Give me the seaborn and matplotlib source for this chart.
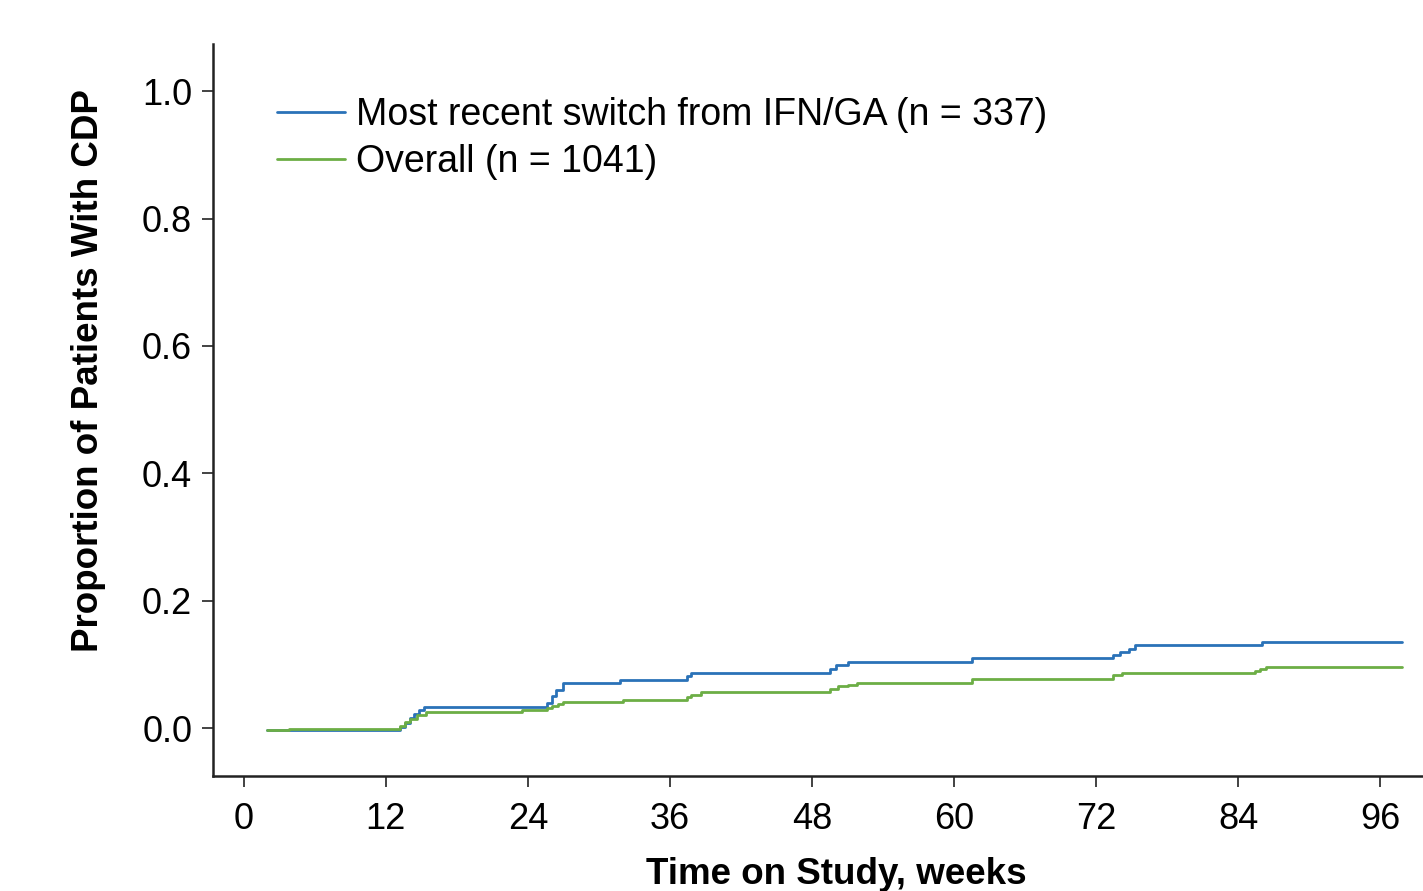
import matplotlib
matplotlib.use("Agg")
import matplotlib.pyplot as plt
import seaborn as sns
import pandas as pd
import numpy as np

# Kaplan-Meier style cumulative CDP proportions
switch_weeks = [2.0, 13.2, 13.6, 14.0, 14.4, 14.8, 15.2, 25.6, 26.0, 26.4, 27.0, 31.8, 37.4, 37.8, 49.5, 50.0, 51.0, 61.5, 73.4, 74.0, 74.8, 75.3, 86.0, 97.8]
switch_vals = [-0.003, 0.002, 0.008, 0.016, 0.022, 0.029, 0.033, 0.040, 0.050, 0.060, 0.071, 0.075, 0.082, 0.086, 0.093, 0.100, 0.104, 0.110, 0.115, 0.120, 0.125, 0.130, 0.135, 0.135]

overall_weeks = [2.0, 3.8, 13.2, 13.6, 14.0, 14.6, 15.4, 23.5, 25.6, 26.0, 26.5, 27.0, 32.0, 37.4, 37.8, 38.6, 49.5, 50.2, 51.0, 51.8, 61.5, 73.4, 74.2, 85.4, 85.8, 86.3, 97.8]
overall_vals = [-0.003, -0.001, 0.004, 0.009, 0.015, 0.020, 0.025, 0.028, 0.031, 0.035, 0.038, 0.041, 0.044, 0.049, 0.052, 0.057, 0.061, 0.066, 0.068, 0.071, 0.078, 0.083, 0.086, 0.090, 0.093, 0.096, 0.096]

series_names = ["Most recent switch from IFN/GA (n = 337)", "Overall (n = 1041)"]
series_colors = ["#2a72b8", "#6cae45"]

x_ticks = [0, 12, 24, 36, 48, 60, 72, 84, 96]
y_ticks = [0.0, 0.2, 0.4, 0.6, 0.8, 1.0]

sns.set_theme(style="ticks")
plt.rcParams["font.family"] = ["Liberation Sans", "DejaVu Sans"]
plt.rcParams["text.color"] = "black"
plt.rcParams["axes.labelcolor"] = "black"
plt.rcParams["xtick.color"] = "black"
plt.rcParams["ytick.color"] = "black"

df = pd.concat([
    pd.DataFrame({"week": switch_weeks, "prop": switch_vals, "group": series_names[0]}),
    pd.DataFrame({"week": overall_weeks, "prop": overall_vals, "group": series_names[1]}),
])

fig = plt.figure(figsize=(14.23, 8.91), dpi=100)
ax = fig.add_axes([213/1423, 1 - 776/891, 1 - 213/1423, (776 - 44)/891])

sns.lineplot(data=df, x="week", y="prop", hue="group", palette=series_colors,
             hue_order=series_names, drawstyle="steps-post", linewidth=2.0,
             estimator=None, sort=False, ax=ax)

ax.set_xlim(-2.6, 99.6)
ax.set_ylim(-0.075, 1.074)
ax.set_xticks(x_ticks)
ax.set_yticks(y_ticks)
ax.set_yticklabels([f"{v:.1f}" for v in y_ticks])
ax.tick_params(axis="both", labelsize=26, length=8, width=1.2, color="#222222", pad=7)
ax.tick_params(axis="x", pad=11)
for s in ["top", "right"]:
    ax.spines[s].set_visible(False)
for s in ["left", "bottom"]:
    ax.spines[s].set_linewidth(1.8)
    ax.spines[s].set_color("#222222")

ax.set_xlabel("Time on Study, weeks", fontsize=26.5, fontweight="bold", labelpad=14)
ax.set_ylabel("Proportion of Patients With CDP", fontsize=26.5, fontweight="bold", labelpad=26)
ax.xaxis.label.set_x((836 - 213) / 1210)
ax.yaxis.label.set_y((776 - 371) / 732)

leg = ax.legend(loc="upper left", bbox_to_anchor=((277 - 213) / 1210, (776 - 97) / 732),
                frameon=False, borderpad=0, borderaxespad=0,
                fontsize=27, handlelength=1.8, handletextpad=0.3, labelspacing=0.29,
                title=None)

fig.savefig("out.png", dpi=100)
